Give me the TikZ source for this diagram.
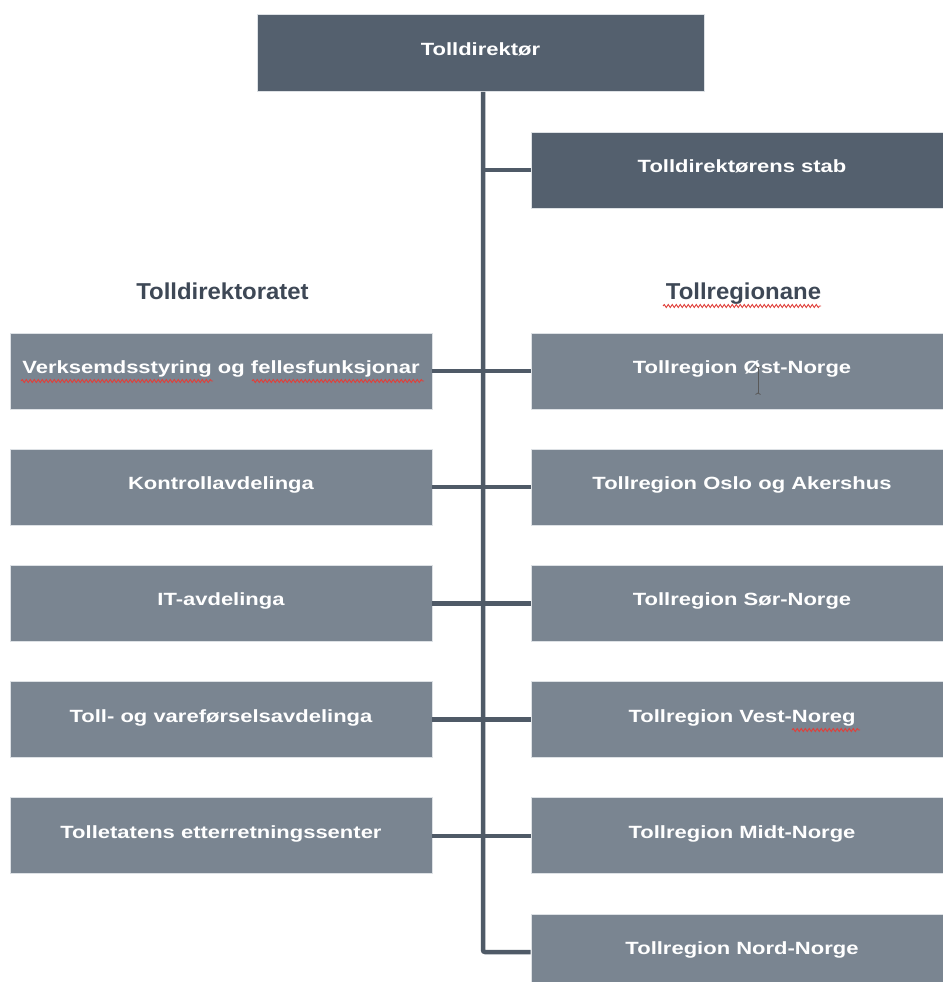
\documentclass[tikz,border=0pt]{standalone}
\usepackage{fontspec}
\setmainfont{Liberation Sans}
\newfontfamily\boxfont[FakeStretch=1.243]{Liberation Sans Bold}
\newfontfamily\headfont[FakeStretch=1.04]{Liberation Sans Bold}
\usetikzlibrary{decorations.pathmorphing}
\definecolor{boxdark}{HTML}{54606E}
\definecolor{boxlight}{HTML}{7A8591}
\definecolor{boxedge}{HTML}{DDE1E5}
\definecolor{linecol}{HTML}{4F5A67}
\definecolor{headcol}{HTML}{3E4856}
\definecolor{spellred}{HTML}{E0403A}
\tikzset{
  orgbox/.style={rectangle, fill=boxlight, draw=boxedge, line width=0.8pt,
    minimum width=422pt, minimum height=76pt, inner sep=0pt, text=white,
    font=\boxfont\fontsize{17.7}{20}\selectfont, text height=10pt, text depth=5pt},
  darkbox/.style={orgbox, fill=boxdark},
  headtext/.style={inner sep=0pt, text=headcol, font=\headfont\fontsize{23}{26}\selectfont},
  conn/.style={draw=linecol, line width=4.5pt},
  spell/.style={draw=spellred, line width=0.9pt, decorate,
    decoration={snake, segment length=4pt, amplitude=1.5pt}},
  ibeam/.style={draw=black!65, line width=0.8pt}
}
\begin{document}
\begin{tikzpicture}[x=1pt,y=-1pt]
\useasboundingbox[fill=white] (0,0) rectangle (942,982);
% top
\node[darkbox, minimum width=447pt, minimum height=77pt] (top) at (480.5,53) {Tolldirektør};
\node[darkbox] (stab) at (742,170) {Tolldirektørens stab};
% headers
\node[headtext, anchor=base] (hl) at (222.5,299) {Tolldirektoratet};
\node[headtext, anchor=base] (hr) at (743.5,299) {Tollregionane};
% left column
\node[orgbox] (l1) at (221,371.0) {Verksemdsstyring og fellesfunksjonar};
\node[orgbox] (l2) at (221,487.2) {Kontrollavdelinga};
\node[orgbox] (l3) at (221,603.4) {IT-avdelinga};
\node[orgbox] (l4) at (221,719.6) {Toll- og vareførselsavdelinga};
\node[orgbox] (l5) at (221,835.8) {Tolletatens etterretningssenter};
% right column
\node[orgbox] (r1) at (742,371.0) {Tollregion Øst-Norge};
\node[orgbox] (r2) at (742,487.2) {Tollregion Oslo og Akershus};
\node[orgbox] (r3) at (742,603.4) {Tollregion Sør-Norge};
\node[orgbox] (r4) at (742,719.6) {Tollregion Vest-Noreg};
\node[orgbox] (r5) at (742,835.8) {Tollregion Midt-Norge};
\node[orgbox] (r6) at (742,952.0) {Tollregion Nord-Norge};
% trunk
\coordinate (trunk) at (483,952);
\draw[conn, rounded corners=2pt] (top.south -| trunk) -- (trunk) -- (r6.west);
\draw[conn] (stab.west -| trunk) -- (stab.west);
\draw[conn] (l1.east) -- (r1.west);
\draw[conn] (l2.east) -- (r2.west);
\draw[conn] (l3.east) -- (r3.west);
\draw[conn] (l4.east) -- (r4.west);
\draw[conn] (l5.east) -- (r5.west);
% spell-check marks
\draw[spell] (21,381) -- (213,381);
\draw[spell] (252,381) -- (424,381);
\draw[spell] (663,306) -- (821,306);
\draw[spell] (792,730) -- (860,730);
% text cursor
\draw[ibeam] (758,368) -- (758,393);
\draw[ibeam] (755.5,366.5) .. controls (757,366.5) .. (758,368) .. controls (759,366.5) .. (760.5,366.5);
\draw[ibeam] (755.5,394.5) .. controls (757,394.5) .. (758,393) .. controls (759,394.5) .. (760.5,394.5);
\end{tikzpicture}
\end{document}
